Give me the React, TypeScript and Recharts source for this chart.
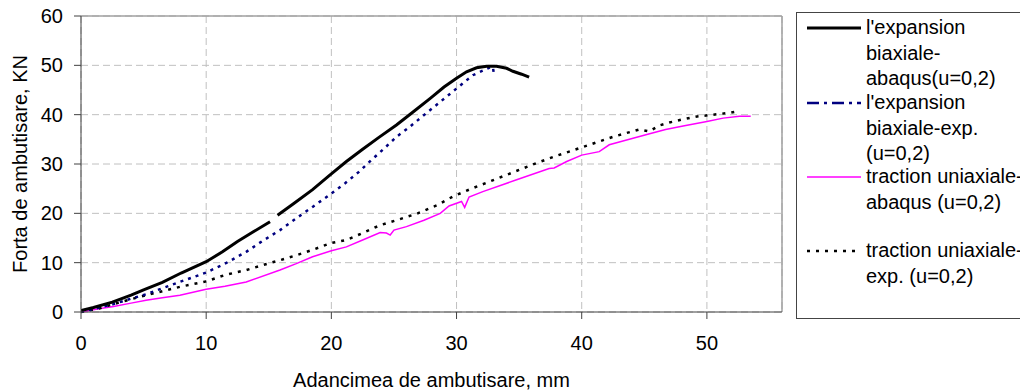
import { LineChart, Line, XAxis, YAxis, CartesianGrid, ReferenceLine, Legend } from "recharts";

// biaxial expansion, abaqus (gap near 15.4 mm)
const biaxAbaqusX = [0, 1, 2.5, 4, 5, 6.5, 8, 10, 11.3, 12.5, 13.8, 15.1, 15.4, 15.7, 17, 18.5, 19.9, 21.2, 22.5, 23.8, 25.2, 26.5, 27.9, 29, 30, 30.8, 31.6, 32.4, 33.2, 34, 34.5, 35.2, 35.8];
const biaxAbaqusY = [0.3, 0.9, 2.0, 3.4, 4.5, 6.0, 7.9, 10.2, 12.2, 14.3, 16.3, 18.3, null, 19.6, 22.0, 24.8, 27.8, 30.5, 33.0, 35.4, 37.9, 40.5, 43.3, 45.6, 47.4, 48.7, 49.5, 49.8, 49.8, 49.4, 48.8, 48.2, 47.6];

// biaxial expansion, experiment
const biaxExpX = [0, 1, 2.6, 4, 5.2, 6.5, 7.9, 10, 11.5, 13.2, 14.5, 15.9, 17.2, 18.5, 20, 21.1, 22.2, 23.2, 24.2, 25.2, 26.2, 27.1, 28.7, 30, 31.3, 32.6, 32.9, 33.0];
const biaxExpY = [0.1, 0.6, 1.6, 2.7, 3.6, 4.8, 6.1, 8.0, 9.8, 12.2, 14.4, 16.6, 19.0, 21.3, 24.0, 26.1, 28.4, 30.8, 33.1, 35.5, 37.4, 39.3, 42.6, 45.3, 48.0, 49.5, 49.7, 48.0];

// uniaxial traction, abaqus
const uniAbaqusX = [0, 1.3, 2.6, 4, 5.2, 6.5, 7.9, 10, 11.5, 13.2, 15.9, 17.2, 18.5, 20, 21.2, 22.5, 23.9, 24.4, 24.7, 25.0, 26, 27.4, 28.7, 29.4, 30.4, 30.65, 31.0, 32.1, 34.8, 37.4, 37.8, 38.8, 40, 41.4, 42.2, 44.1, 45.5, 46.7, 48.1, 50, 51.3, 52.6, 53.5];
const uniAbaqusY = [0, 0.6, 1.1, 1.8, 2.4, 2.9, 3.4, 4.6, 5.2, 6.1, 8.5, 9.8, 11.2, 12.4, 13.2, 14.6, 16.1, 16.0, 15.6, 16.6, 17.3, 18.6, 20.0, 21.5, 22.4, 21.2, 23.3, 24.4, 26.8, 29.1, 29.2, 30.5, 31.8, 32.5, 33.9, 35.2, 36.2, 37.0, 37.7, 38.6, 39.3, 39.7, 39.7];

// uniaxial traction, experiment
const uniExpX = [0, 1.3, 2.6, 4, 5.2, 6.5, 7.9, 10, 11.5, 13.2, 14.5, 15.9, 17.2, 18.5, 20, 21.2, 22.5, 23.9, 25.2, 26.9, 28.5, 29.7, 31, 32.4, 33.7, 35, 36.4, 37.8, 39.8, 41.2, 42.5, 43.6, 44.6, 45.4, 46.2, 47, 48, 49.1, 50.5, 51.9, 52.3];
const uniExpY = [0, 0.6, 1.6, 2.6, 3.4, 4.2, 5.1, 6.2, 7.5, 8.5, 9.5, 10.5, 11.5, 12.6, 14.0, 14.6, 16.0, 17.6, 18.6, 20.0, 21.7, 23.4, 24.8, 26.2, 27.5, 28.8, 30.2, 31.5, 33.2, 34.4, 35.5, 36.3, 37.0, 36.6, 37.8, 38.4, 39.0, 39.6, 40.0, 40.4, 40.6];

const xTicks = [0, 10, 20, 30, 40, 50];
const yTicks = [0, 10, 20, 30, 40, 50, 60];

const toPoints = (xs: number[], ys: (number | null)[]) => xs.map((x, i) => ({ x, y: ys[i] }));

const FONT = "'Liberation Sans', Arial, sans-serif";

const legendItems = [
  { lines: ["l'expansion", "biaxiale-", "abaqus(u=0,2)"], stroke: "#000", width: 3, dash: undefined, top: 2 },
  { lines: ["l'expansion", "biaxiale-exp.", "(u=0,2)"], stroke: "#000080", width: 2.5, dash: "12 5 3 5", top: 77 },
  { lines: ["traction uniaxiale-", "abaqus (u=0,2)"], stroke: "#ff00ff", width: 1.5, dash: undefined, top: 151 },
  { lines: ["traction uniaxiale-", "exp. (u=0,2)"], stroke: "#000", width: 2.5, dash: "3 6", top: 225 },
];

function LegendBox() {
  return (
    <div
      style={{
        position: "relative",
        width: 260,
        height: 305,
        border: "1px solid #444",
        background: "#fff",
        fontFamily: FONT,
        fontSize: 20,
        lineHeight: "25.6px",
        color: "#000",
      }}
    >
      {legendItems.map((it, i) => (
        <div key={i} style={{ position: "absolute", left: 0, top: it.top, width: 260 }}>
          <svg width={66} height={26} style={{ position: "absolute", left: 10, top: 0 }}>
            <line x1={0} x2={54} y1={13} y2={13} stroke={it.stroke} strokeWidth={it.width} strokeDasharray={it.dash} />
          </svg>
          <div style={{ position: "absolute", left: 69, top: 0, whiteSpace: "nowrap" }}>
            {it.lines.map((l, j) => (
              <div key={j}>{l}</div>
            ))}
          </div>
        </div>
      ))}
    </div>
  );
}

export default function App() {
  return (
    <div style={{ position: "absolute", left: 0, top: 0, width: 1020, height: 391, overflow: "hidden", background: "#fff" }}>
      <LineChart width={1020} height={391} margin={{ top: 16, right: 238, bottom: 0, left: 0 }}>
        <CartesianGrid stroke="#c0c0c0" strokeDasharray="7 4" />
        <XAxis
          type="number"
          dataKey="x"
          domain={[0, 56]}
          ticks={xTicks}
          allowDataOverflow
          height={79}
          tickSize={7}
          tickMargin={17}
          stroke="#404040"
          tick={{ fill: "#000", fontSize: 20, fontFamily: FONT }}
          label={{ value: "Adancimea de ambutisare, mm", position: "insideBottom", offset: 4, fill: "#000", fontSize: 20, fontFamily: FONT }}
        />
        <YAxis
          type="number"
          domain={[0, 60]}
          ticks={yTicks}
          width={81}
          tickSize={7}
          tickMargin={11}
          stroke="#404040"
          tick={{ fill: "#000", fontSize: 20, fontFamily: FONT }}
          label={{
            content: () => (
              <text x={20} y={164} transform="rotate(-90 20 164)" textAnchor="middle" dominantBaseline="central" fill="#000" fontSize={20} fontFamily={FONT}>
                Forta de ambutisare, KN
              </text>
            ),
          }}
        />
        <ReferenceLine y={60} stroke="#a0a0a0" strokeWidth={1.5} />
        <ReferenceLine x={56} stroke="#a0a0a0" strokeWidth={1.5} />
        <Line
          data={toPoints(uniAbaqusX, uniAbaqusY)}
          dataKey="y"
          type="linear"
          stroke="#ff00ff"
          strokeWidth={1.5}
          dot={false}
          isAnimationActive={false}
          name="traction uniaxiale-abaqus (u=0,2)"
        />
        <Line
          data={toPoints(uniExpX, uniExpY)}
          dataKey="y"
          type="linear"
          stroke="#000"
          strokeWidth={2.5}
          strokeDasharray="3 6"
          dot={false}
          isAnimationActive={false}
          name="traction uniaxiale-exp. (u=0,2)"
        />
        <Line
          data={toPoints(biaxExpX, biaxExpY)}
          dataKey="y"
          type="linear"
          stroke="#000080"
          strokeWidth={2.5}
          strokeDasharray="3 5"
          dot={false}
          isAnimationActive={false}
          name="l'expansion biaxiale-exp. (u=0,2)"
        />
        <Line
          data={toPoints(biaxAbaqusX, biaxAbaqusY)}
          dataKey="y"
          type="linear"
          stroke="#000"
          strokeWidth={3}
          dot={false}
          connectNulls={false}
          isAnimationActive={false}
          name="l'expansion biaxiale-abaqus(u=0,2)"
        />
        <Legend
          layout="vertical"
          align="center"
          verticalAlign="middle"
          wrapperStyle={{ left: 796, top: 12, width: 262, height: 307 }}
          content={() => <LegendBox />}
        />
      </LineChart>
    </div>
  );
}
